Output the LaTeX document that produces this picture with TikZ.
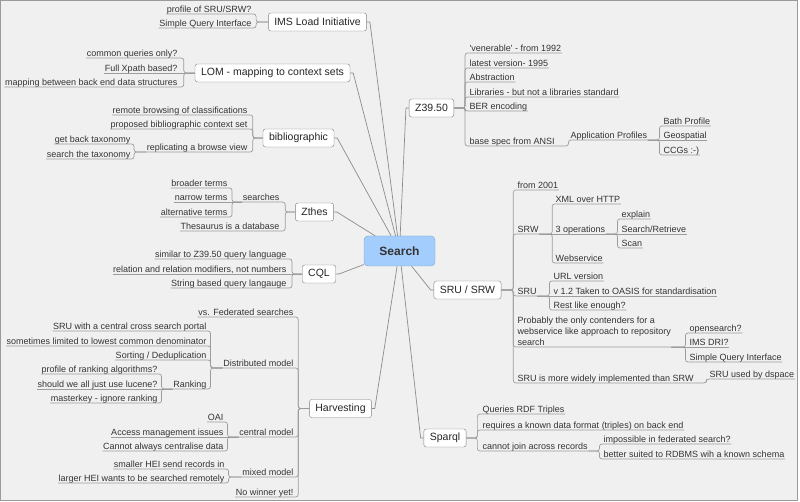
\documentclass[tikz,border=0pt]{standalone}
\usepackage{fontspec}
\setmainfont{Liberation Sans}[Ligatures=TeXOff]

\definecolor{bgc}{HTML}{F0F0F0}
\definecolor{framec}{HTML}{9A9A9A}
\definecolor{linec}{HTML}{9C9C9C}
\definecolor{txtc}{HTML}{333333}
\definecolor{hubfill}{HTML}{A3CDFC}
\definecolor{hubdraw}{HTML}{7BA3D1}

\begin{document}
\begin{tikzpicture}[x=1pt,y=-1pt,
  hub/.style={draw=hubdraw,fill=hubfill,rounded corners=4pt,minimum width=71pt,
    minimum height=30pt,font=\fontsize{12}{14}\selectfont\bfseries,text=txtc},
  topic/.style={draw=gray,fill=white,rounded corners=2.5pt,minimum height=18pt,
    inner xsep=6pt,inner ysep=0pt,font=\fontsize{10.5}{12}\selectfont,text=black!85},
  leaf/.style={inner xsep=0.5pt,inner ysep=0pt,text height=6.5pt,text depth=1.6pt,
    font=\fontsize{9}{11}\selectfont,text=txtc},
  leafl/.style={leaf,anchor=south east},
  leafr/.style={leaf,anchor=south west},
  branch/.style={draw=linec,line width=0.7pt,rounded corners=2.5pt},
  spoke/.style={draw=linec!90!black,line width=0.7pt}]
  \useasboundingbox (0,0) rectangle (800,502);
  \fill[white] (0,0) rectangle (800,502);
  \draw[fill=bgc,draw=framec] (0.5,0.5) rectangle (797,500);

  \node[hub] (search) at (399.5,251) {Search};

  % main topics
  \node[topic] (ims) at (317.5,22) {IMS Load Initiative};
  \node[topic] (lom) at (272.5,73) {LOM - mapping to context sets};
  \node[topic] (biblio) at (298.5,138) {bibliographic};
  \node[topic] (zthes) at (314.5,212) {Zthes};
  \node[topic] (cql) at (319,274) {CQL};
  \node[topic] (harv) at (340.5,408.5) {Harvesting};
  \node[topic] (z39) at (431.5,108) {Z39.50};
  \node[topic] (sru) at (467.5,290) {SRU / SRW};
  \node[topic] (sparql) at (445,438) {Sparql};

  \draw[spoke] (ims.east) -- ++(3,0) -- (search);
  \draw[spoke] (lom.east) -- ++(3,0) -- (search);
  \draw[spoke] (biblio.east) -- ++(3,0) -- (search);
  \draw[spoke] (zthes.east) -- ++(3,0) -- (search);
  \draw[spoke] (cql.east) -- ++(3,0) -- (search);
  \draw[spoke] (harv.east) -- ++(3,0) -- (search);
  \draw[spoke] (z39.west) -- ++(-3,0) -- (search);
  \draw[spoke] (sru.west) -- ++(-3,0) -- (search);
  \draw[spoke] (sparql.west) -- ++(-3,0) -- (search);

  % IMS Load Initiative
  \node[leafl] (ims1) at (252,14) {profile of SRU/SRW?};
  \node[leafl] (ims2) at (252,28) {Simple Query Interface};
  \draw[branch] (ims.west) -- ++(-12,0) |- (ims1.south west);
  \draw[branch] (ims.west) -- ++(-12,0) |- (ims2.south west);

  % LOM
  \node[leafl] (lom1) at (178,58) {common queries only?};
  \node[leafl] (lom2) at (178,73) {Full Xpath based?};
  \node[leafl] (lom3) at (178,87) {mapping between back end data structures};
  \draw[branch] (lom.west) -- ++(-11,0) |- (lom1.south west);
  \draw[branch] (lom.west) -- (lom2.south west);
  \draw[branch] (lom.west) -- ++(-11,0) |- (lom3.south west);

  % bibliographic
  \node[leafl] (bib1) at (248,115) {remote browsing of classifications};
  \node[leafl] (bib2) at (248,129) {proposed bibliographic context set};
  \node[leafl] (bib3) at (248,152) {replicating a browse view};
  \node[leafl] (bib31) at (131,144) {get back taxonomy};
  \node[leafl] (bib32) at (131,159) {search the taxonomy};
  \draw[branch] (biblio.west) -- ++(-10,0) |- (bib1.south west);
  \draw[branch] (biblio.west) -- ++(-10,0) |- (bib2.south west);
  \draw[branch] (biblio.west) -- ++(-10,0) |- (bib3.south west);
  \draw[branch] (bib3.south west) -- ++(-12,0) |- (bib31.south west);
  \draw[branch] (bib3.south west) -- ++(-12,0) |- (bib32.south west);

  % Zthes
  \node[leafl] (zt1) at (280,202) {searches};
  \node[leafl] (zt2) at (280,231) {Thesaurus is a database};
  \node[leafl] (zt11) at (228,188) {broader terms};
  \node[leafl] (zt12) at (228,202) {narrow terms};
  \node[leafl] (zt13) at (228,217) {alternative terms};
  \draw[branch] (zthes.west) -- ++(-10,0) |- (zt1.south west);
  \draw[branch] (zthes.west) -- ++(-10,0) |- (zt2.south west);
  \draw[branch] (zt1.south west) -- ++(-10,0) |- (zt11.south west);
  \draw[branch] (zt1.south west) -- (zt12.south west);
  \draw[branch] (zt1.south west) -- ++(-10,0) |- (zt13.south west);

  % CQL
  \node[leafl] (cql1) at (287,259) {similar to Z39.50 query language};
  \node[leafl] (cql2) at (287,274) {relation and relation modifiers, not numbers};
  \node[leafl] (cql3) at (287,288) {String based query langauge};
  \draw[branch] (cql.west) -- ++(-10,0) |- (cql1.south west);
  \draw[branch] (cql.west) -- (cql2.south west);
  \draw[branch] (cql.west) -- ++(-10,0) |- (cql3.south west);

  % Harvesting
  \node[leafl] (hv1) at (294,317) {vs. Federated searches};
  \node[leafl] (hv2) at (294,368) {Distributed model};
  \node[leafl] (hv3) at (294,437) {central model};
  \node[leafl] (hv4) at (294,477) {mixed model};
  \node[leafl] (hv5) at (294,497) {No winner yet!};
  \draw[branch] (harv.west) -- ++(-11,0) |- (hv1.south west);
  \draw[branch] (harv.west) -- ++(-11,0) |- (hv2.south west);
  \draw[branch] (harv.west) -- ++(-11,0) |- (hv3.south west);
  \draw[branch] (harv.west) -- ++(-11,0) |- (hv4.south west);
  \draw[branch] (harv.west) -- ++(-11,0) |- (hv5.south west);

  \node[leafl] (hv21) at (207,331) {SRU with a central cross search portal};
  \node[leafl] (hv22) at (207,346) {sometimes limited to lowest common denominator};
  \node[leafl] (hv23) at (207,360) {Sorting / Deduplication};
  \node[leafl] (hv24) at (207,389) {Ranking};
  \draw[branch] (hv2.south west) -- ++(-12,0) |- (hv21.south west);
  \draw[branch] (hv2.south west) -- ++(-12,0) |- (hv22.south west);
  \draw[branch] (hv2.south west) -- ++(-12,0) |- (hv23.south west);
  \draw[branch] (hv2.south west) -- ++(-12,0) |- (hv24.south west);

  \node[leafl] (hv241) at (158,374) {profile of ranking algorithms?};
  \node[leafl] (hv242) at (158,389) {should we all just use lucene?};
  \node[leafl] (hv243) at (158,403) {masterkey - ignore ranking};
  \draw[branch] (hv24.south west) -- ++(-11,0) |- (hv241.south west);
  \draw[branch] (hv24.south west) -- (hv242.south west);
  \draw[branch] (hv24.south west) -- ++(-11,0) |- (hv243.south west);

  \node[leafl] (hv31) at (224,422) {OAI};
  \node[leafl] (hv32) at (224,437) {Access management issues};
  \node[leafl] (hv33) at (224,451) {Cannot always centralise data};
  \draw[branch] (hv3.south west) -- ++(-11,0) |- (hv31.south west);
  \draw[branch] (hv3.south west) -- (hv32.south west);
  \draw[branch] (hv3.south west) -- ++(-11,0) |- (hv33.south west);

  \node[leafl] (hv41) at (225,469) {smaller HEI send records in};
  \node[leafl] (hv42) at (225,483) {larger HEI wants to be searched remotely};
  \draw[branch] (hv4.south west) -- ++(-13,0) |- (hv41.south west);
  \draw[branch] (hv4.south west) -- ++(-13,0) |- (hv42.south west);

  % Z39.50
  \node[leafr] (z1) at (469,53) {'venerable' - from 1992};
  \node[leafr] (z2) at (469,68) {latest version- 1995};
  \node[leafr] (z3) at (469,82) {Abstraction};
  \node[leafr] (z4) at (469,97) {Libraries - but not a libraries standard};
  \node[leafr] (z5) at (469,111) {BER encoding};
  \node[leafr] (z6) at (469,146) {base spec from ANSI};
  \draw[branch] (z39.east) -- ++(11,0) |- (z1.south east);
  \draw[branch] (z39.east) -- ++(11,0) |- (z2.south east);
  \draw[branch] (z39.east) -- ++(11,0) |- (z3.south east);
  \draw[branch] (z39.east) -- ++(11,0) |- (z4.south east);
  \draw[branch] (z39.east) -- ++(11,0) |- (z5.south east);
  \draw[branch] (z39.east) -- ++(11,0) |- (z6.south east);

  \node[leafr] (z61) at (570,140) {Application Profiles};
  \draw[branch] (z6.south east) -- ++(13,0) |- (z61.south east);
  \node[leafr] (z611) at (663,126) {Bath Profile};
  \node[leafr] (z612) at (663,140) {Geospatial};
  \node[leafr] (z613) at (663,155) {CCGs :-)};
  \draw[branch] (z61.south east) -- ++(11.5,0) |- (z611.south east);
  \draw[branch] (z61.south east) -- (z612.south east);
  \draw[branch] (z61.south east) -- ++(11.5,0) |- (z613.south east);

  % SRU / SRW
  \node[leafr] (s1) at (517,190) {from 2001};
  \node[leafr] (s2) at (517,234) {SRW};
  \node[leafr] (s3) at (517,296) {SRU};
  \node[leafr,text height=,text depth=,inner ysep=1.6pt,align=left,
    font=\fontsize{9}{10.7}\selectfont] (s4) at (517,347)
    {Probably the only contenders for a\\webservice like approach to repository\\search};
  \node[leafr] (s5) at (517,383) {SRU is more widely implemented than SRW};
  \draw[branch] (sru.east) -- ++(12,0) |- (s1.south east);
  \draw[branch] (sru.east) -- ++(12,0) |- (s2.south east);
  \draw[branch] (sru.east) -- ++(12,0) |- (s3.south east);
  \draw[branch] (sru.east) -- ++(12,0) |- (s4.south east);
  \draw[branch] (sru.east) -- ++(12,0) |- (s5.south east);

  \node[leafr] (s21) at (555,204) {XML over HTTP};
  \node[leafr] (s22) at (555,234) {3 operations};
  \node[leafr] (s23) at (555,263) {Webservice};
  \draw[branch] (s2.south east) -- ++(13,0) |- (s21.south east);
  \draw[branch] (s2.south east) -- (s22.south east);
  \draw[branch] (s2.south east) -- ++(13,0) |- (s23.south east);

  \node[leafr] (s221) at (621,219) {explain};
  \node[leafr] (s222) at (621,234) {Search/Retrieve};
  \node[leafr] (s223) at (621,248) {Scan};
  \draw[branch] (s22.south east) -- ++(11.5,0) |- (s221.south east);
  \draw[branch] (s22.south east) -- (s222.south east);
  \draw[branch] (s22.south east) -- ++(11.5,0) |- (s223.south east);

  \node[leafr] (s31) at (553,281) {URL version};
  \node[leafr] (s32) at (553,296) {v 1.2 Taken to OASIS for standardisation};
  \node[leafr] (s33) at (553,310) {Rest like enough?};
  \draw[branch] (s3.south east) -- ++(12,0) |- (s31.south east);
  \draw[branch] (s3.south east) -- (s32.south east);
  \draw[branch] (s3.south east) -- ++(12,0) |- (s33.south east);

  \node[leafr] (s41) at (689,333) {opensearch?};
  \node[leafr] (s42) at (689,347) {IMS DRI?};
  \node[leafr] (s43) at (689,362) {Simple Query Interface};
  \draw[branch] (s4.south east) -- ++(14,0) |- (s41.south east);
  \draw[branch] (s4.south east) -- (s42.south east);
  \draw[branch] (s4.south east) -- ++(14,0) |- (s43.south east);

  \node[leafr] (s51) at (709,379) {SRU used by dspace};
  \draw[branch] (s5.south east) -- ++(12,0) |- (s51.south east);

  % Sparql
  \node[leafr] (sp1) at (482,414) {Queries RDF Triples};
  \node[leafr] (sp2) at (482,430) {requires a known data format (triples) on back end};
  \node[leafr] (sp3) at (482,451) {cannot join across records};
  \draw[branch] (sparql.east) -- ++(11,0) |- (sp1.south east);
  \draw[branch] (sparql.east) -- ++(11,0) |- (sp2.south east);
  \draw[branch] (sparql.east) -- ++(11,0) |- (sp3.south east);

  \node[leafr] (sp31) at (603,444) {impossible in federated search?};
  \node[leafr] (sp32) at (603,459) {better suited to RDBMS wih a known schema};
  \draw[branch] (sp3.south east) -- ++(11,0) |- (sp31.south east);
  \draw[branch] (sp3.south east) -- ++(11,0) |- (sp32.south east);
\end{tikzpicture}
\end{document}
